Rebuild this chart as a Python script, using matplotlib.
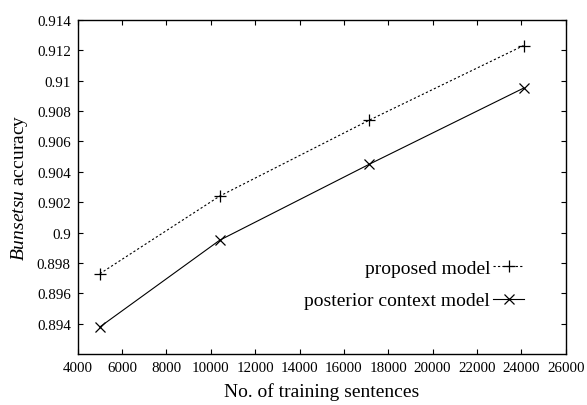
import matplotlib
matplotlib.use("Agg")
import matplotlib.pyplot as plt

plt.rcParams['font.family'] = ['Liberation Serif', 'DejaVu Serif']
plt.rcParams['mathtext.fontset'] = 'custom'
plt.rcParams['mathtext.rm'] = 'Liberation Serif'
plt.rcParams['mathtext.it'] = 'Liberation Serif:italic'

# Data
train_sizes = [5000, 10400, 17150, 24100]
proposed = [0.8973, 0.9024, 0.9074, 0.9123]
posterior = [0.8938, 0.8995, 0.9045, 0.9095]
labels = ["proposed model", "posterior context model"]
xticks = list(range(4000, 26001, 2000))
yticks = [0.894, 0.896, 0.898, 0.9, 0.902, 0.904, 0.906, 0.908, 0.91, 0.912, 0.914]
ytick_labels = ["0.894", "0.896", "0.898", "0.9", "0.902", "0.904", "0.906",
                "0.908", "0.91", "0.912", "0.914"]

fig = plt.figure(figsize=(5.87, 4.06), dpi=100)
ax = fig.add_axes([0.1324, 0.1249, 0.9637 - 0.1324, 0.949 - 0.1249])

ax.plot(train_sizes, proposed, color='black', lw=0.8, linestyle=(0, (2, 2)),
        marker='+', markersize=8, markeredgewidth=0.9, label=labels[0])
ax.plot(train_sizes, posterior, color='black', lw=0.8, linestyle='-',
        marker='x', markersize=7.5, markeredgewidth=0.9, label=labels[1])

ax.set_xlim(4000, 26000)
ax.set_ylim(0.892, 0.914)
ax.set_xticks(xticks)
ax.set_xticklabels([str(t) for t in xticks])
ax.set_yticks(yticks)
ax.set_yticklabels(ytick_labels)
ax.tick_params(direction='in', length=3.5, width=0.8, labelsize=10.8,
               top=True, right=True, pad=5)
for s in ax.spines.values():
    s.set_linewidth(1.0)

ax.set_xlabel("No. of training sentences", fontsize=14, labelpad=6)
ax.set_ylabel(r"$\mathit{Bunsetsu}$ accuracy", fontsize=14, labelpad=5)

leg = ax.legend(loc='lower right', bbox_to_anchor=(0.915, 0.134),
                frameon=False, markerfirst=False, fontsize=14,
                handlelength=1.6, handletextpad=0.15, labelspacing=0.78,
                borderpad=0, borderaxespad=0)

fig.savefig("out.png", dpi=100)
